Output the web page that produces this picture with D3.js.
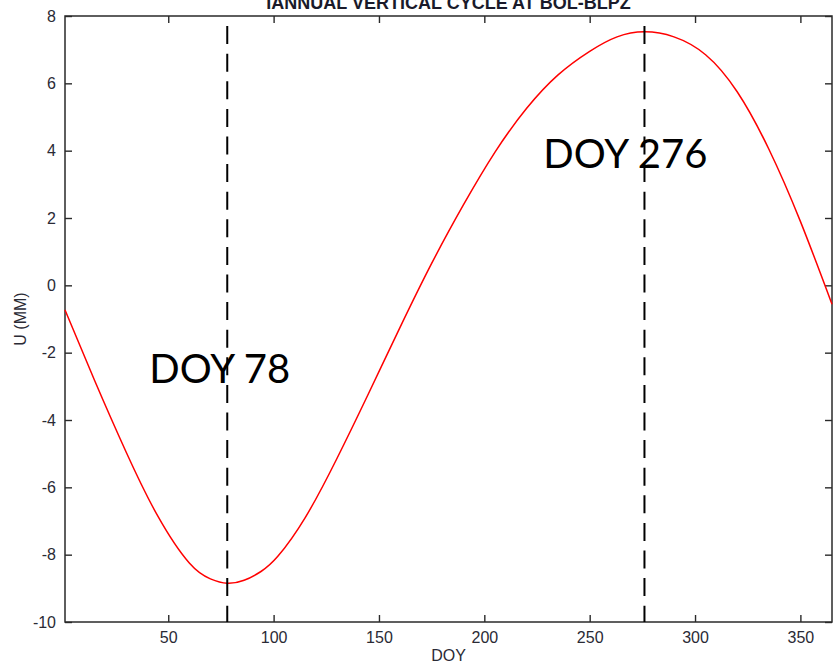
<!DOCTYPE html>
<html>
<head>
<meta charset="utf-8">
<script src="https://cdn.jsdelivr.net/npm/d3@7"></script>
<style>
    body { margin: 0; background: #ffffff; }
    svg { display: block; }
    .axis text { font-family: "Liberation Sans", Arial, sans-serif; font-size: 16px; fill: #2a2a35; }
    .axis line { stroke: #2a2a2a; stroke-width: 1.4; }
    .axis path { display: none; }
</style>
</head>
<body>
<svg id="chart"></svg>
<script>
/* =========================================================
   Data
   ========================================================= */

const TITLE = "IANNUAL VERTICAL CYCLE AT BOL-BLPZ";
const X_LABEL = "DOY";
const Y_LABEL = "U (MM)";

const DOY = [1, 15, 30, 45, 60, 70, 78, 86, 94, 102, 115, 130, 145, 160, 175,
             190, 205, 220, 235, 250, 263, 276, 290, 305, 320, 335, 350, 365];
const U_MM = [-0.73, -2.82, -4.95, -6.85, -8.25, -8.72, -8.85, -8.76, -8.5, -8.05,
              -6.9, -5.15, -3.22, -1.25, 0.65, 2.38, 3.95, 5.25, 6.25, 6.95,
              7.38, 7.53, 7.38, 6.85, 5.75, 4.05, 1.9, -0.56];

const MARKERS = [78, 276];
const MARKER_LABELS = ["DOY 78", "DOY 276"];
const MARKER_LABEL_U = [-2.9, 3.5];
const MARKER_LABEL_DOY = [41, 228];
const MARKER_TOP_U = 7.7;

const X_TICKS = [50, 100, 150, 200, 250, 300, 350];
const Y_TICKS = [-10, -8, -6, -4, -2, 0, 2, 4, 6, 8];

/* =========================================================
   Layout
   ========================================================= */

const WIDTH = 833;
const HEIGHT = 665;
const MARGIN = { top: 16, right: 1, bottom: 43, left: 65 };
const innerWidth = WIDTH - MARGIN.left - MARGIN.right;
const innerHeight = HEIGHT - MARGIN.top - MARGIN.bottom;

const svg = d3.select("#chart")
    .attr("width", WIDTH)
    .attr("height", HEIGHT);

const g = svg.append("g")
    .attr("transform", `translate(${MARGIN.left},${MARGIN.top})`);

const x = d3.scaleLinear().domain([1, 365]).range([0, innerWidth]);
const y = d3.scaleLinear().domain([-10, 8]).range([innerHeight, 0]);

const plainNumber = d => String(d); // keep ASCII hyphen like the original

/* =========================================================
   Axes (ticks point inward on all four sides)
   ========================================================= */

g.append("g")
    .attr("class", "axis")
    .attr("transform", `translate(0,${innerHeight})`)
    .call(d3.axisBottom(x).tickValues(X_TICKS).tickSize(-7).tickPadding(10).tickFormat(plainNumber));

g.append("g")
    .attr("class", "axis")
    .call(d3.axisTop(x).tickValues(X_TICKS).tickSize(-7).tickFormat(""));

g.append("g")
    .attr("class", "axis")
    .call(d3.axisLeft(y).tickValues(Y_TICKS).tickSize(-7).tickPadding(9).tickFormat(plainNumber));

g.append("g")
    .attr("class", "axis")
    .attr("transform", `translate(${innerWidth},0)`)
    .call(d3.axisRight(y).tickValues(Y_TICKS).tickSize(-7).tickFormat(""));

g.append("rect")
    .attr("width", innerWidth)
    .attr("height", innerHeight)
    .attr("fill", "none")
    .attr("stroke", "#2a2a2a")
    .attr("stroke-width", 1.5);

/* =========================================================
   Curve and markers
   ========================================================= */

const line = d3.line()
    .x(d => x(d))
    .y((d, i) => y(U_MM[i]))
    .curve(d3.curveNatural);

g.append("path")
    .datum(DOY)
    .attr("fill", "none")
    .attr("stroke", "#ff0000")
    .attr("stroke-width", 1.5)
    .attr("d", line);

g.selectAll(".marker")
    .data(MARKERS)
    .enter()
    .append("line")
    .attr("class", "marker")
    .attr("x1", d => x(d))
    .attr("x2", d => x(d))
    .attr("y1", y(MARKER_TOP_U))
    .attr("y2", y(-10))
    .attr("stroke", "#000000")
    .attr("stroke-width", 2)
    .attr("stroke-dasharray", "18,9.6");

g.selectAll(".marker-label")
    .data(MARKER_LABELS)
    .enter()
    .append("text")
    .attr("class", "marker-label")
    .attr("x", (d, i) => x(MARKER_LABEL_DOY[i]))
    .attr("y", (d, i) => y(MARKER_LABEL_U[i]))
    .attr("font-family", "Lato, 'Open Sans', sans-serif")
    .attr("font-size", 40)
    .attr("fill", "#000000")
    .text(d => d);

/* =========================================================
   Titles
   ========================================================= */

svg.append("text")
    .attr("x", MARGIN.left + innerWidth / 2)
    .attr("y", 9)
    .attr("text-anchor", "middle")
    .attr("font-family", "'Liberation Sans', Arial, sans-serif")
    .attr("font-size", 18)
    .attr("font-weight", "bold")
    .attr("fill", "#1a1a2a")
    .text(TITLE);

svg.append("text")
    .attr("x", MARGIN.left + innerWidth / 2)
    .attr("y", 661)
    .attr("text-anchor", "middle")
    .attr("font-family", "'Liberation Sans', Arial, sans-serif")
    .attr("font-size", 16)
    .attr("fill", "#2a2a35")
    .text(X_LABEL);

svg.append("text")
    .attr("transform", `translate(26,${MARGIN.top + innerHeight / 2}) rotate(-90)`)
    .attr("text-anchor", "middle")
    .attr("font-family", "'Liberation Sans', Arial, sans-serif")
    .attr("font-size", 16)
    .attr("fill", "#2a2a35")
    .text(Y_LABEL);
</script>
</body>
</html>
